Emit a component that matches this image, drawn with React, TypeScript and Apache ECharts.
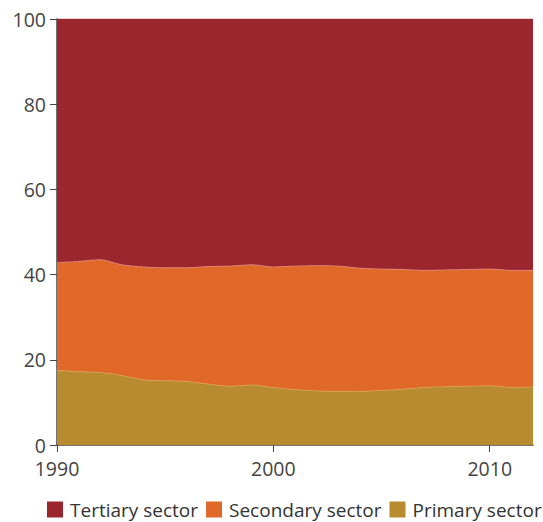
import React, { useEffect, useRef } from "react";
import * as echarts from "echarts";

const years = [1990, 1991, 1992, 1993, 1994, 1995, 1996, 1997, 1998, 1999, 2000, 2001, 2002, 2003, 2004, 2005, 2006, 2007, 2008, 2009, 2010, 2011, 2012];
const primary = [17.5, 17.2, 17.0, 16.3, 15.3, 15.1, 14.9, 14.3, 13.8, 14.1, 13.5, 13.0, 12.7, 12.6, 12.6, 12.8, 13.1, 13.5, 13.7, 13.8, 13.9, 13.5, 13.6];
const secondary = [25.3, 25.9, 26.5, 26.0, 26.5, 26.5, 26.7, 27.6, 28.2, 28.2, 28.3, 29.0, 29.4, 29.4, 28.9, 28.5, 28.1, 27.5, 27.4, 27.4, 27.4, 27.5, 27.4];
const tertiary = [57.2, 56.9, 56.5, 57.7, 58.2, 58.4, 58.4, 58.1, 58.0, 57.7, 58.2, 58.0, 57.9, 58.0, 58.5, 58.7, 58.8, 59.0, 58.9, 58.8, 58.7, 59.0, 59.0];
const xTicks = ["1990", "2000", "2010"];
const names = ["Tertiary sector", "Secondary sector", "Primary sector"];
const colors = { tertiary: "#9B262E", secondary: "#E0692A", primary: "#B88B2E" };

export default function App() {
  const ref = useRef<HTMLDivElement>(null);
  useEffect(() => {
    document.body.style.margin = "0";
    const chart = echarts.init(ref.current!, null, { renderer: "svg" });
    const font = "'Open Sans', 'Noto Sans', sans-serif";
    const cats = years.map(String);
    const showTick = (_i: number, v: string) => xTicks.includes(v);
    const mk = (name: string, vals: number[], color: string, line: string) => ({
      name,
      type: "line",
      stack: "total",
      smooth: 0.3,
      showSymbol: false,
      symbol: "none",
      data: vals,
      lineStyle: { width: 0.8, color: line },
      itemStyle: { color },
      areaStyle: { color, opacity: 1 },
    });
    chart.setOption({
      animation: false,
      textStyle: { fontFamily: font },
      grid: { left: 57, right: 10, top: 19, bottom: 77, containLabel: false },
      legend: {
        data: names,
        bottom: 3,
        left: 47,
        padding: 0,
        icon: "rect",
        itemWidth: 16,
        itemHeight: 16,
        itemGap: 8,
        textStyle: { fontSize: 19, color: "#333", fontFamily: font, padding: [0, 0, 0, 2] },
      },
      xAxis: {
        type: "category",
        data: cats,
        boundaryGap: false,
        splitLine: { show: false },
        axisLine: { lineStyle: { color: "#444", width: 1.5 } },
        axisTick: { show: true, length: 7, lineStyle: { color: "#444" }, interval: showTick },
        axisLabel: { interval: showTick, fontSize: 19.5, lineHeight: 18, color: "#444", margin: 14, fontFamily: font },
      },
      yAxis: {
        type: "value",
        min: 0,
        max: 100,
        interval: 20,
        splitLine: { show: false },
        axisLine: { show: true, lineStyle: { color: "#444", width: 1.5 } },
        axisTick: { show: true, length: 7, lineStyle: { color: "#444" } },
        axisLabel: { fontSize: 19.5, lineHeight: 18, color: "#444", margin: 11, fontFamily: font },
      },
      series: [
        mk(names[2], primary, colors.primary, "#D9A04A"),
        mk(names[1], secondary, colors.secondary, "#E6877A"),
        mk(names[0], tertiary, colors.tertiary, "#9B262E"),
      ],
    });
    return () => chart.dispose();
  }, []);
  return <div ref={ref} style={{ width: 543, height: 522 }} />;
}
